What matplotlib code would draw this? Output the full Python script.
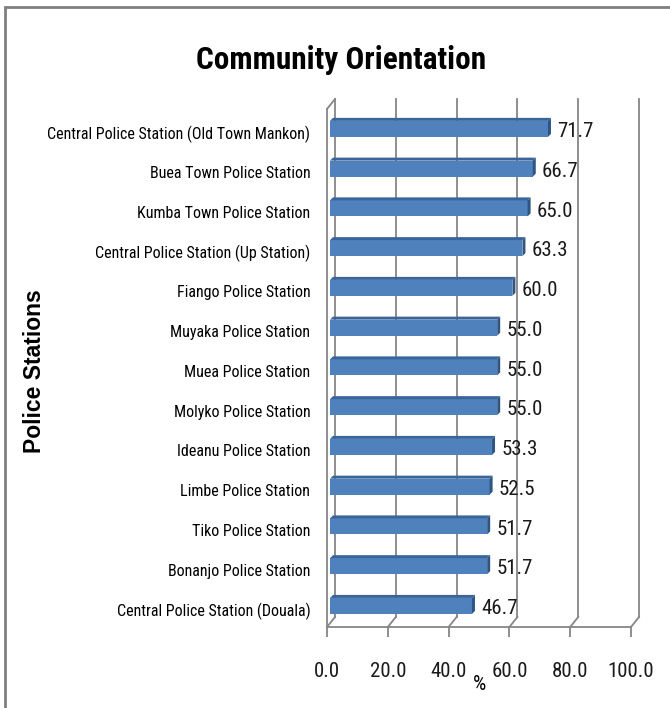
import matplotlib
matplotlib.use("Agg")
import matplotlib.pyplot as plt
from matplotlib import font_manager as fm
from matplotlib.transforms import ScaledTranslation
from matplotlib.patches import Polygon, Rectangle
from matplotlib.lines import Line2D

stations = [
    "Central Police Station (Old Town Mankon)",
    "Buea Town Police Station",
    "Kumba Town Police Station",
    "Central Police Station (Up Station)",
    "Fiango Police Station",
    "Muyaka Police Station",
    "Muea Police Station",
    "Molyko Police Station",
    "Ideanu Police Station",
    "Limbe Police Station",
    "Tiko Police Station",
    "Bonanjo Police Station",
    "Central Police Station (Douala)",
]
values = [71.7, 66.7, 65.0, 63.3, 60.0, 55.0, 55.0, 55.0, 53.3, 52.5, 51.7, 51.7, 46.7]
x_ticks = [0, 20, 40, 60, 80, 100]
x_tick_labels = ["0.0", "20.0", "40.0", "60.0", "80.0", "100.0"]
title_text = "Community Orientation"
x_label = "%"
y_label = "Police Stations"

# ---- font choice (condensed if available) ----
names = {f.name for f in fm.fontManager.ttflist}
cond = None
for cand in ["Liberation Sans Narrow", "Roboto Condensed", "Open Sans Condensed"]:
    if cand in names:
        cond = dict(family=cand)
        break
if cond is None:
    if any(f.name == "DejaVu Sans" and "condensed" in str(f.stretch).lower()
           for f in fm.fontManager.ttflist):
        cond = dict(family="DejaVu Sans", stretch="condensed")
    else:
        cond = dict(family="Liberation Sans")
normal_family = "Liberation Sans" if "Liberation Sans" in names else "DejaVu Sans"

W, H = 670, 708
fig = plt.figure(figsize=(W / 100, H / 100), dpi=100)
fig.patch.set_facecolor("white")

# axes region = front plane of the 3D box
ax_l, ax_r, ax_b, ax_t = 327, 631, 627, 109
ax = fig.add_axes([ax_l / W, 1 - ax_b / H, (ax_r - ax_l) / W, (ax_b - ax_t) / H])
n = len(values)
pos = [n - 1 - i for i in range(n)]
ymin, ymax = -0.48, n - 1 + 0.55
ax.set_xlim(0, 100)
ax.set_ylim(ymin, ymax)

ppx = (ax_r - ax_l) / 100.0
ppy = (ax_b - ax_t) / (ymax - ymin)
grid_c = "#868686"

# wall depth offsets (in data units)
wx, wy = 8 / ppx, 10 / ppy
# bar offsets
bx, by = 3 / ppx, 2 / ppy
dbx, dby = 3 / ppx, 3 / ppy
h = 16 / ppy

# back wall gridlines
for xt in x_ticks[1:]:
    ax.add_line(Line2D([xt + wx, xt + wx], [ymin + wy, ymax + wy], color=grid_c, lw=1.3,
                       clip_on=False, zorder=1))
# left wall back edge and top connector
ax.add_line(Line2D([wx, wx], [ymin + wy, ymax + wy], color=grid_c, lw=1.3, clip_on=False, zorder=1))
ax.add_line(Line2D([0, wx], [ymax, ymax + wy], color=grid_c, lw=1.3, clip_on=False, zorder=1))
# floor diagonals
for xt in x_ticks:
    ax.add_line(Line2D([xt, xt + wx], [ymin, ymin + wy], color=grid_c, lw=1.3, clip_on=False, zorder=1))

# bars
front_c, top_c, side_c = "#4F81BD", "#3A659A", "#2E5583"
bar_y = [p + by for p in pos]
ax.barh(bar_y, values, left=bx, height=h, color=front_c, edgecolor="none", zorder=3)
for p, v in zip(pos, values):
    yt = p + by + h / 2
    yb = p + by - h / 2
    ax.add_patch(Polygon([(bx, yt), (bx + v, yt), (bx + v + dbx, yt + dby), (bx + dbx, yt + dby)],
                         closed=True, facecolor=top_c, edgecolor="none", zorder=3))
    ax.add_patch(Polygon([(bx + v, yb), (bx + v + dbx, yb + dby), (bx + v + dbx, yt + dby), (bx + v, yt)],
                         closed=True, facecolor=side_c, edgecolor="none", zorder=3))
    ax.annotate(f"{v:.1f}", xy=(bx + v, p + by), xytext=(6.5, -2), textcoords="offset points",
                ha="left", va="center", fontsize=15, color="#1a1a1a", zorder=5, **cond)

# spines
for s in ["top", "right"]:
    ax.spines[s].set_visible(False)
for s in ["left", "bottom"]:
    ax.spines[s].set_color(grid_c)
    ax.spines[s].set_linewidth(1.3)

ax.set_xticks(x_ticks)
ax.set_xticklabels(x_tick_labels)
ax.set_yticks(pos)
ax.set_yticklabels(stations)
ax.tick_params(axis="x", length=7, width=1.3, color=grid_c, pad=18, labelsize=15, labelcolor="#1a1a1a")
ax.tick_params(axis="y", length=0, pad=12, labelsize=11.5, labelcolor="#000000")
for lab in ax.get_xticklabels() + ax.get_yticklabels():
    lab.set_fontfamily(cond["family"])
    if "stretch" in cond:
        lab.set_fontstretch(cond["stretch"])
for lab in ax.get_yticklabels():
    lab.set_transform(lab.get_transform() + ScaledTranslation(0, -1 / 72, fig.dpi_scale_trans))

# title, axis labels
fig.text(341 / W, 1 - 69 / H, title_text, ha="center", va="baseline", fontsize=22.5,
         fontweight="bold", **cond)
fig.text(479 / W, 1 - 684 / H, x_label, ha="center", va="center", fontsize=15, **cond)
fig.text(35 / W, 1 - 371 / H, y_label, ha="center", va="center", rotation=90, fontsize=16.5,
         fontweight="bold", family=normal_family)

# outer chart border (only top/left visible)
fig.add_artist(Rectangle((5 / W, -0.1), 1.2, 1.1 - 7 / H + 0.0, transform=fig.transFigure,
                         fill=False, edgecolor="#7f7f7f", lw=2, clip_on=False))

fig.savefig("out.png", dpi=100)
